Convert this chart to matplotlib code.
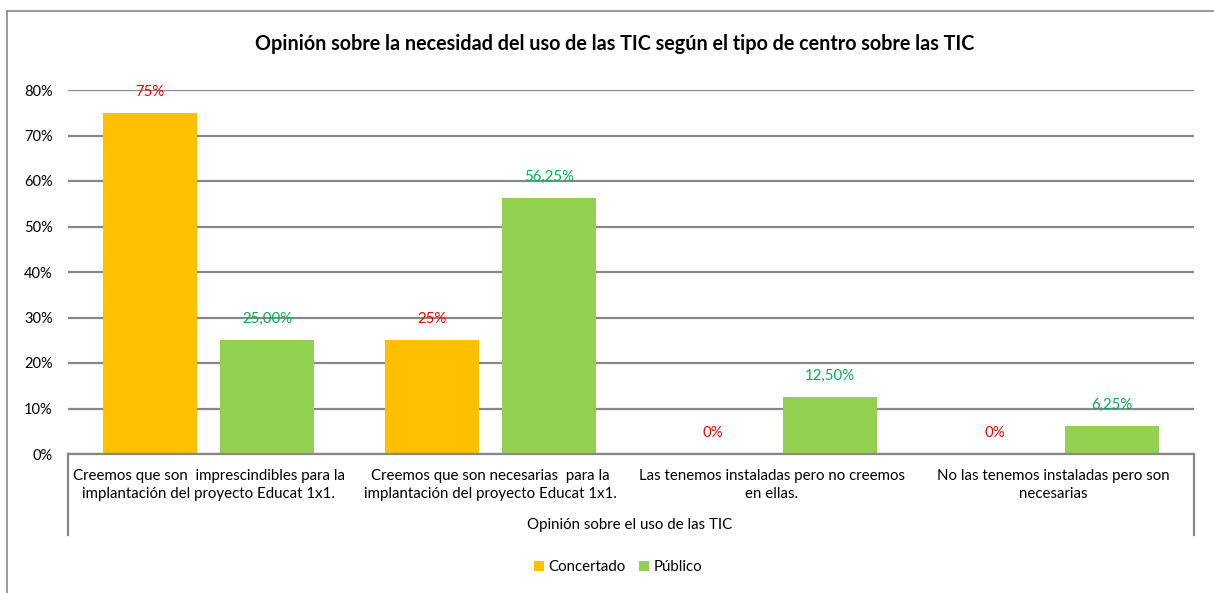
import numpy as np
import matplotlib
matplotlib.use('Agg')
import matplotlib.pyplot as plt
import matplotlib.transforms as mtransforms

plt.rcParams['font.family'] = ['Lato', 'DejaVu Sans']

# data
categories = ["Creemos que son  imprescindibles para la\nimplantación del proyecto Educat 1x1.",
              "Creemos que son necesarias  para la\nimplantación del proyecto Educat 1x1.",
              "Las tenemos instaladas pero no creemos\nen ellas.",
              "No las tenemos instaladas pero son\nnecesarias"]
concertado = [75, 25, 0, 0]
publico = [25.0, 56.25, 12.5, 6.25]
concertado_labels = ["75%", "25%", "0%", "0%"]
publico_labels = ["25,00%", "56,25%", "12,50%", "6,25%"]
yticks = [0, 10, 20, 30, 40, 50, 60, 70, 80]

c_orange = '#FFC000'
c_green = '#92D050'
grid_col = '#878787'

fig = plt.figure(figsize=(12.14, 5.93), dpi=100)
W, H = 1214, 593
ax = fig.add_axes([68 / W, 1 - 454 / H, (1194 - 68) / W, (454 - 90) / H])

x = np.arange(len(categories))
bw = 0.334
off = 0.208
b1 = ax.bar(x - off, concertado, bw, color=c_orange, zorder=2, label='Concertado')
b2 = ax.bar(x + off, publico, bw, color=c_green, zorder=2, label='Público')

# data labels (a bit above each bar)
lab_off = mtransforms.offset_copy(ax.transData, fig=fig, x=0, y=21 * 72 / 100, units='points')
for xi, v, s in zip(x - off, concertado, concertado_labels):
    ax.text(xi, v, s, transform=lab_off, ha='center', va='center', color='#FF0000', fontsize=10.8, zorder=4)
for xi, v, s in zip(x + off, publico, publico_labels):
    ax.text(xi, v, s, transform=lab_off, ha='center', va='center', color='#00B050', fontsize=10.8, zorder=4)

ax.set_xlim(-0.5, 3.5)
ax.set_ylim(0, 80)
ax.set_yticks(yticks)
ax.set_yticklabels([f"{t}%" for t in yticks], fontsize=10.5)
ax.yaxis.grid(True, color=grid_col, linewidth=1.6, zorder=0)
ax.set_axisbelow(True)
ax.tick_params(axis='y', length=0, pad=11)
ax.tick_params(axis='x', length=0, pad=11)
ax.set_xticks(x)
ax.set_xticklabels(categories, fontsize=10.8, linespacing=1.35)

for s in ['top', 'right', 'left']:
    ax.spines[s].set_visible(False)
ax.spines['bottom'].set_color(grid_col)
ax.spines['bottom'].set_linewidth(1.6)

# multi-level axis side lines
trans = mtransforms.blended_transform_factory(ax.transData, ax.transAxes)
depth = -(535 - 454) / (454 - 90)
for xe in [-0.5, 3.5]:
    ax.plot([xe, xe], [0, depth], transform=trans, color=grid_col, lw=1.6, clip_on=False)

fig.text(630 / W, 1 - 525 / H, "Opinión sobre el uso de las TIC", ha='center', va='center', fontsize=10.8)

fig.text(615 / W, 1 - 44 / H, "Opinión sobre la necesidad del uso de las TIC según el tipo de centro sobre las TIC",
         ha='center', va='center', fontsize=14.2, fontweight='bold')

fig.legend(handles=[b1, b2], loc='center', bbox_to_anchor=(618 / W, 1 - 567 / H), ncol=2, frameon=False,
           fontsize=10.8, handlelength=0.65, handleheight=0.65, handletextpad=0.3, columnspacing=0.9)

# outer frame (top and left edges)
fig.add_artist(plt.Line2D([7 / W, 7 / W], [0, 1 - 11 / H], color='#898989', lw=1.2))
fig.add_artist(plt.Line2D([7 / W, 1], [1 - 11 / H, 1 - 11 / H], color='#898989', lw=1.2))

fig.savefig('out.png', dpi=100)
